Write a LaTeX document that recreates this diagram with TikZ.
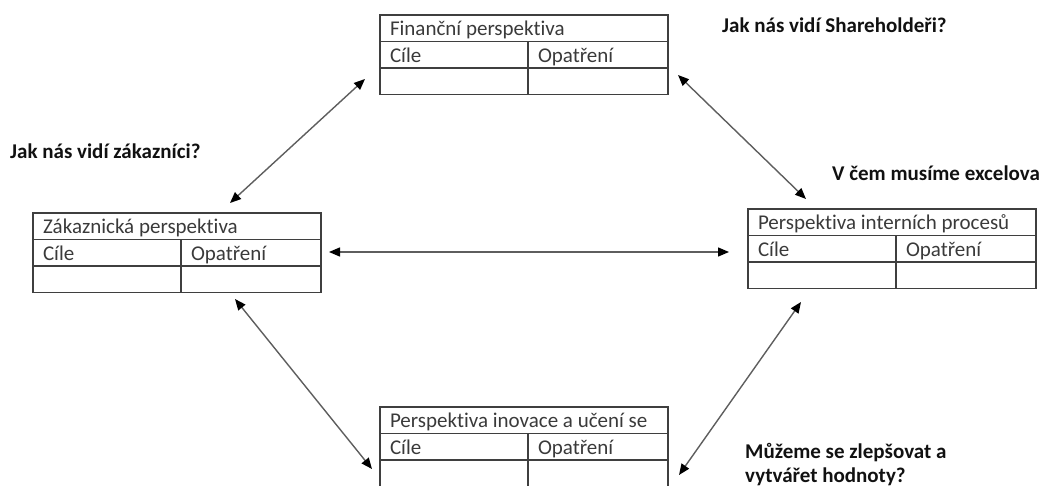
\documentclass[tikz,border=0pt]{standalone}
\usepackage{fontspec}
\setmainfont{Carlito}[Ligatures=NoCommon]
\usetikzlibrary{arrows.meta,positioning}
\definecolor{boxGray}{HTML}{3F3F3F}
\definecolor{cellInk}{HTML}{3A3A3A}
\definecolor{linkGray}{HTML}{5E5E5E}
\definecolor{questionInk}{HTML}{111111}
\tikzset{
  cell/.style={
    draw=boxGray,
    line width=1.3pt,
    outer sep=0pt,
    minimum height=26.5pt,
    inner ysep=0pt,
    inner xsep=10pt,
    text height=17pt,
    text depth=2pt,
    align=flush left,
    text=cellInk,
    font=\fontsize{21}{25}\selectfont
  },
  title cell/.style={cell,text width=268pt},
  goal cell/.style={cell,text width=128pt},
  measure cell/.style={cell,text width=120pt},
  question label/.style={
    font=\fontsize{21}{24}\selectfont\bfseries,
    text=questionInk,
    inner sep=0pt,
    anchor=base west,
    align=left
  },
  link edge/.style={
    {Triangle[length=11pt,width=9pt,color=black]}-{Triangle[length=11pt,width=9pt,color=black]},
    draw=linkGray,
    line width=1.4pt
  }
}
\begin{document}
\begin{tikzpicture}[x=1pt,y=-1pt]
  \useasboundingbox (0,0) rectangle (1041,486);
  \clip (0,0) rectangle (1041,486);

  % Finanční perspektiva
  \node[title cell,anchor=north west] (fin) at (380,15) {Finanční perspektiva};
  \node[goal cell,below=0pt of fin.south west,anchor=north west] (fin-goal) {Cíle};
  \node[measure cell,right=0pt of fin-goal] (fin-measure) {Opatření};
  \node[goal cell,below=0pt of fin-goal] (fin-goal-blank) {};
  \node[measure cell,below=0pt of fin-measure] (fin-measure-blank) {};

  % Zákaznická perspektiva
  \node[title cell,anchor=north west] (cust) at (33,213) {Zákaznická perspektiva};
  \node[goal cell,below=0pt of cust.south west,anchor=north west] (cust-goal) {Cíle};
  \node[measure cell,right=0pt of cust-goal] (cust-measure) {Opatření};
  \node[goal cell,below=0pt of cust-goal] (cust-goal-blank) {};
  \node[measure cell,below=0pt of cust-measure] (cust-measure-blank) {};

  % Perspektiva interních procesů
  \node[title cell,anchor=north west] (int) at (748,209) {Perspektiva interních procesů};
  \node[goal cell,below=0pt of int.south west,anchor=north west] (int-goal) {Cíle};
  \node[measure cell,right=0pt of int-goal] (int-measure) {Opatření};
  \node[goal cell,below=0pt of int-goal] (int-goal-blank) {};
  \node[measure cell,below=0pt of int-measure] (int-measure-blank) {};

  % Perspektiva inovace a učení se
  \node[title cell,anchor=north west] (inno) at (380,407) {Perspektiva inovace a učení se};
  \node[goal cell,below=0pt of inno.south west,anchor=north west] (inno-goal) {Cíle};
  \node[measure cell,right=0pt of inno-goal] (inno-measure) {Opatření};
  \node[goal cell,below=0pt of inno-goal] (inno-goal-blank) {};
  \node[measure cell,below=0pt of inno-measure] (inno-measure-blank) {};

  % questions
  \node[question label] (q-share) at (722,33) {Jak nás vidí Shareholdeři?};
  \node[question label] (q-cust) at (10,159) {Jak nás vidí zákazníci?};
  \node[question label] (q-excel) at (832,181) {V čem musíme excelova};
  \node[question label] (q-improve) at (745,482) {Můžeme se zlepšovat a\\vytvářet hodnoty?};

  % arrow ends
  \coordinate (fin-sw) at (365,79);
  \coordinate (fin-se) at (678,75);
  \coordinate (cust-ne) at (230,203);
  \coordinate (cust-e) at (329,252);
  \coordinate (cust-se) at (235,299);
  \coordinate (int-nw) at (806,199);
  \coordinate (int-w) at (729,252);
  \coordinate (int-sw) at (801,302);
  \coordinate (inno-nw) at (372,469);
  \coordinate (inno-ne) at (679,475);

  \draw[link edge] (cust-ne) -- (fin-sw);
  \draw[link edge] (fin-se) -- (int-nw);
  \draw[link edge] (cust-e) -- (int-w);
  \draw[link edge] (cust-se) -- (inno-nw);
  \draw[link edge] (inno-ne) -- (int-sw);
\end{tikzpicture}
\end{document}
